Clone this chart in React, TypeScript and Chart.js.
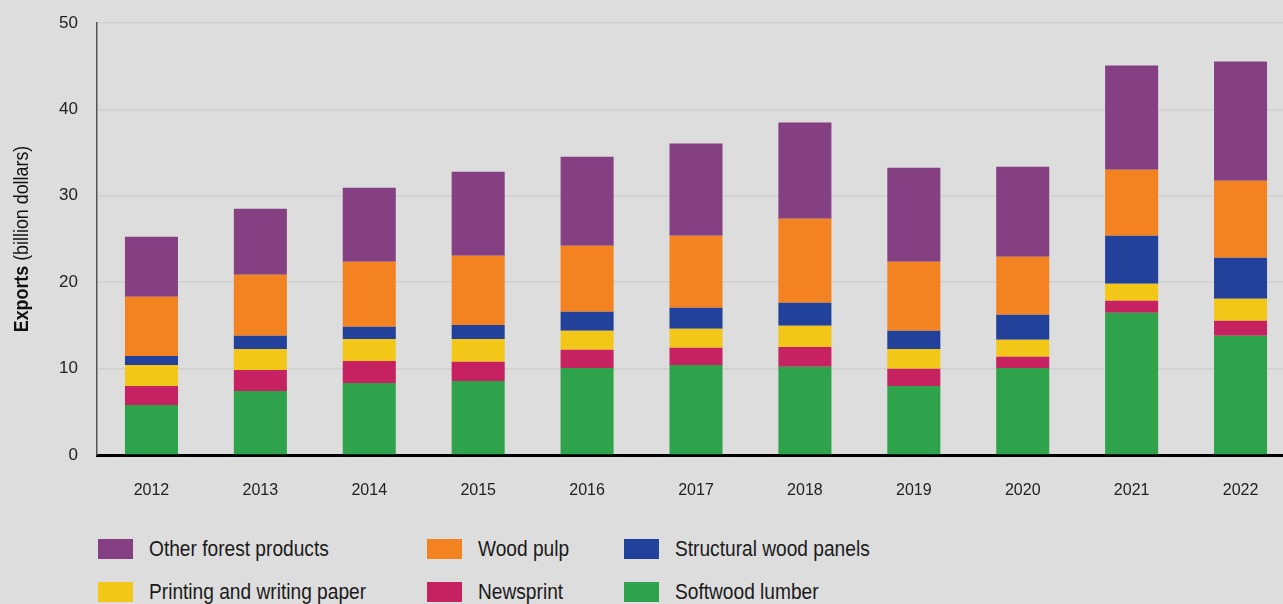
import React, { useEffect, useRef } from "react";
import { Chart, registerables } from "chart.js";

Chart.register(...registerables);

const years = ["2012", "2013", "2014", "2015", "2016", "2017", "2018", "2019", "2020", "2021", "2022"];
const softwoodLumber = [5.8, 7.42, 8.34, 8.57, 10.08, 10.43, 10.2, 8.0, 10.08, 16.45, 13.79];
const newsprint = [2.2, 2.43, 2.55, 2.21, 2.09, 1.97, 2.31, 1.97, 1.28, 1.39, 1.74];
const printingWritingPaper = [2.43, 2.43, 2.55, 2.66, 2.2, 2.2, 2.44, 2.31, 1.97, 1.97, 2.55];
const structuralWoodPanels = [1.04, 1.51, 1.39, 1.62, 2.2, 2.43, 2.66, 2.09, 2.89, 5.57, 4.75];
const woodPulp = [6.84, 7.07, 7.53, 8.0, 7.65, 8.35, 9.74, 7.99, 6.72, 7.64, 8.92];
const otherForestProducts = [6.95, 7.64, 8.58, 9.73, 10.31, 10.66, 11.12, 10.9, 10.43, 12.06, 13.79];
const yTicks = [0, 10, 20, 30, 40, 50];

const COLORS = {
  other: "#854083",
  pulp: "#f38221",
  panels: "#22419a",
  paper: "#f2c718",
  news: "#c62262",
  lumber: "#2ea34b",
};

const FONT = "'Liberation Sans', Arial, sans-serif";

const legendItems = [
  { label: "Other forest products", color: COLORS.other, col: 0, row: 0 },
  { label: "Wood pulp", color: COLORS.pulp, col: 1, row: 0 },
  { label: "Structural wood panels", color: COLORS.panels, col: 2, row: 0 },
  { label: "Printing and writing paper", color: COLORS.paper, col: 0, row: 1 },
  { label: "Newsprint", color: COLORS.news, col: 1, row: 1 },
  { label: "Softwood lumber", color: COLORS.lumber, col: 2, row: 1 },
];
const legendColX = [98, 427, 624];
const legendRowY = [539, 582];

const yTitlePlugin = {
  id: "yTitle",
  afterDraw(chart: any) {
    const ctx = chart.ctx;
    ctx.save();
    ctx.translate(22, 239);
    ctx.rotate(-Math.PI / 2);
    ctx.scale(0.85, 1);
    ctx.textBaseline = "middle";
    ctx.fillStyle = "#111";
    const boldFont = `bold 21px ${FONT}`;
    const normFont = `21px ${FONT}`;
    ctx.font = boldFont;
    const t1 = "Exports ";
    const w1 = ctx.measureText(t1).width;
    ctx.font = normFont;
    const t2 = "(billion dollars)";
    const w2 = ctx.measureText(t2).width;
    const start = -(w1 + w2) / 2;
    ctx.textAlign = "left";
    ctx.font = boldFont;
    ctx.fillText(t1, start, 0);
    ctx.font = normFont;
    ctx.fillText(t2, start + w1, 0);
    ctx.restore();
  },
};

export default function App() {
  const ref = useRef<HTMLCanvasElement | null>(null);

  useEffect(() => {
    if (!ref.current) return;
    const chart = new Chart(ref.current, {
      type: "bar",
      data: {
        labels: years,
        datasets: [
          { label: "Softwood lumber", data: softwoodLumber, backgroundColor: COLORS.lumber },
          { label: "Newsprint", data: newsprint, backgroundColor: COLORS.news },
          { label: "Printing and writing paper", data: printingWritingPaper, backgroundColor: COLORS.paper },
          { label: "Structural wood panels", data: structuralWoodPanels, backgroundColor: COLORS.panels },
          { label: "Wood pulp", data: woodPulp, backgroundColor: COLORS.pulp },
          { label: "Other forest products", data: otherForestProducts, backgroundColor: COLORS.other },
        ].map((d) => ({ ...d, borderWidth: 0, barPercentage: 0.487, categoryPercentage: 1 })),
      },
      options: {
        animation: false,
        responsive: false,
        maintainAspectRatio: false,
        layout: { padding: { top: 23, right: 15, left: 0, bottom: 0 } },
        plugins: { legend: { display: false }, tooltip: { enabled: false } },
        scales: {
          x: {
            stacked: true,
            grid: { display: false, drawTicks: false },
            border: { display: true, color: "#000", width: 3 },
            ticks: { color: "#222", font: { family: FONT, size: 16 }, padding: 26 },
            afterFit(scale: any) {
              scale.height = 65;
            },
          },
          y: {
            stacked: true,
            min: 0,
            max: 50,
            afterBuildTicks(scale: any) {
              scale.ticks = yTicks.map((v) => ({ value: v }));
            },
            grid: { color: "#d0d0d0", lineWidth: 1.5, drawTicks: true, tickLength: 19, tickColor: "rgba(0,0,0,0)" },
            border: { display: true, color: "#555", width: 1.5 },
            ticks: { color: "#222", font: { family: FONT, size: 17 }, padding: 0 },
            afterFit(scale: any) {
              scale.width = 97;
            },
          },
        },
      },
      plugins: [yTitlePlugin],
    });
    return () => chart.destroy();
  }, []);

  return (
    <div
      style={{
        position: "fixed",
        left: 0,
        top: 0,
        width: 1283,
        height: 604,
        overflow: "hidden",
        background: "#dddddd",
      }}
    >
      <canvas ref={ref} width={1310} height={520} style={{ position: "absolute", left: 0, top: 0, width: 1310, height: 520 }} />
      {legendItems.map((it) => (
        <div key={it.label}>
          <div
            style={{
              position: "absolute",
              left: legendColX[it.col],
              top: legendRowY[it.row],
              width: 35,
              height: 20,
              background: it.color,
            }}
          />
          <div
            style={{
              position: "absolute",
              left: legendColX[it.col] + 51,
              top: legendRowY[it.row] - 4,
              height: 28,
              lineHeight: "28px",
              fontFamily: FONT,
              fontSize: 22,
              color: "#1a1a1a",
              whiteSpace: "nowrap",
              transform: "scaleX(0.87)",
              transformOrigin: "left center",
            }}
          >
            {it.label}
          </div>
        </div>
      ))}
    </div>
  );
}
